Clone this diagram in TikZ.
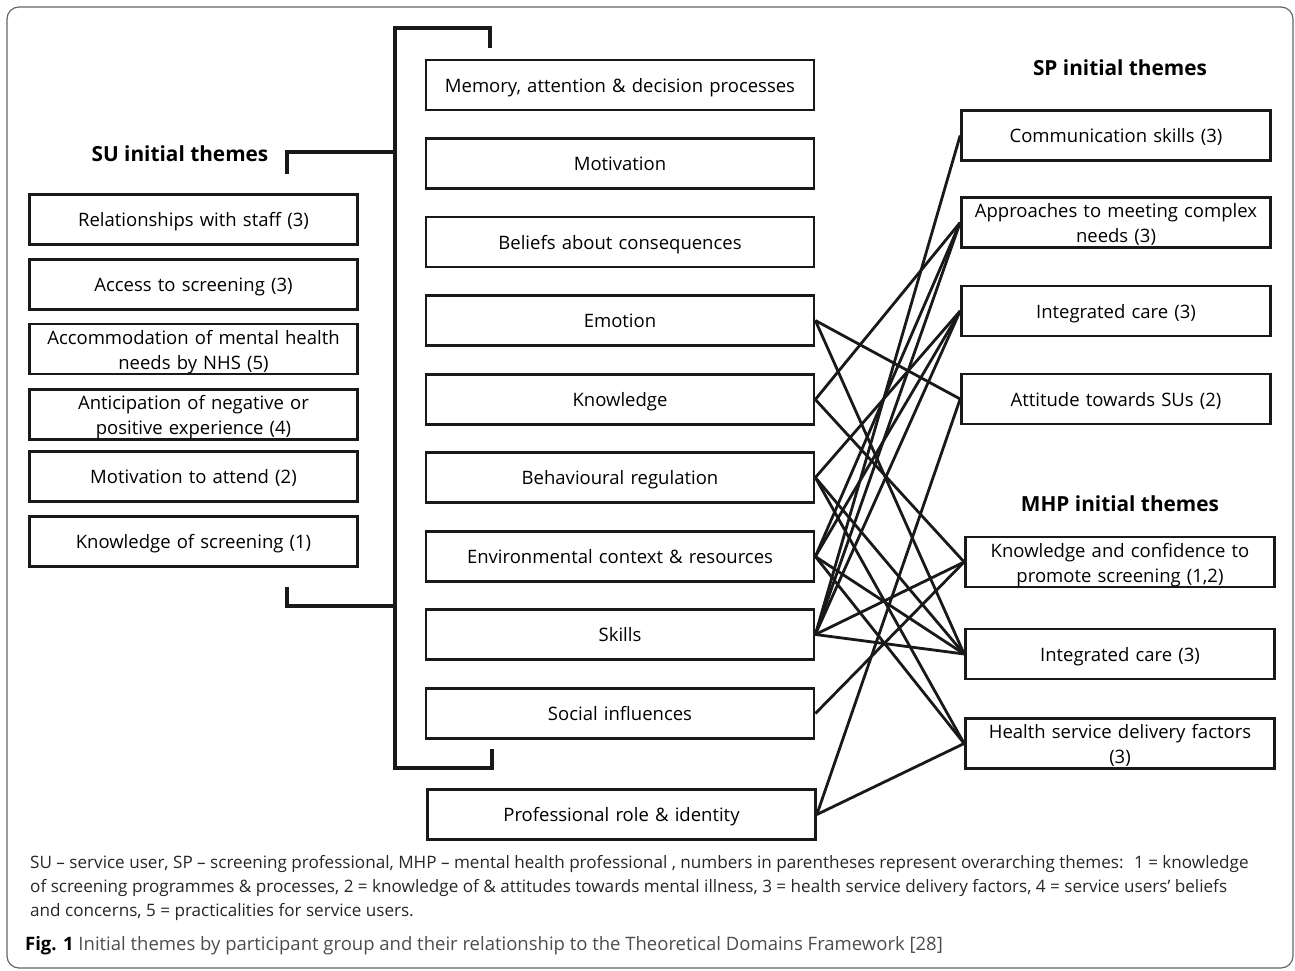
\documentclass[tikz,border=0pt]{standalone}
\usepackage{fontspec}
\setmainfont{Open Sans}
\begin{document}
\begin{tikzpicture}[x=1pt,y=-1pt,
  box/.style={draw=black!90, line width=2.7pt, minimum height=50pt, inner sep=2pt, align=center, text depth=0pt, font=\fontsize{18.5}{25}\selectfont},
  two/.style={text depth=24pt},
  lbox/.style={box, minimum width=328pt, text width=324pt},
  mbox/.style={box, minimum width=388pt, text width=380pt},
  rbox/.style={box, minimum width=309pt, text width=305pt},
  qbox/.style={box, minimum width=309pt, text width=305pt},
  link/.style={line width=2.8pt, black!90},
  brk/.style={line width=4.5pt, black!90},
  ttl/.style={font=\fontsize{20.8}{25}\selectfont\bfseries}]
\useasboundingbox (0,0) rectangle (1295,971);
\draw[line width=1.2pt, black!60, rounded corners=12pt] (7,7) rectangle (1293,968);

% titles
\node[ttl] (su) at (180,154) {SU initial themes};
\node[ttl] (sp) at (1120,68) {SP initial themes};
\node[ttl] (mhp) at (1120,504) {MHP initial themes};

% left boxes
\node[lbox] (l1) at (193.5,219.5) {Relationships with staff (3)};
\node[lbox] (l2) at (193.5,284.5) {Access to screening (3)};
\node[lbox, two] (l3) at (193.5,349) {Accommodation of mental health\\needs by NHS (5)};
\node[lbox, two] (l4) at (193.5,414.5) {Anticipation of negative or\\positive experience (4)};
\node[lbox] (l5) at (193.5,476.5) {Motivation to attend (2)};
\node[lbox] (l6) at (193.5,541.5) {Knowledge of screening (1)};

% middle boxes
\node[mbox] (m1) at (620,85) {Memory, attention \& decision processes};
\node[mbox] (m2) at (620,163.5) {Motivation};
\node[mbox] (m3) at (620,242) {Beliefs about consequences};
\node[mbox] (m4) at (620,320.5) {Emotion};
\node[mbox] (m5) at (620,399.5) {Knowledge};
\node[mbox] (m6) at (620,477.5) {Behavioural regulation};
\node[mbox] (m7) at (620,556.5) {Environmental context \& resources};
\node[mbox] (m8) at (620,634.5) {Skills};
\node[mbox] (m9) at (620,713.5) {Social influences};
\node[mbox] (m10) at (621.5,814.5) {Professional role \& identity};

% right boxes SP
\node[rbox] (s1) at (1116,135.5) {Communication skills (3)};
\node[rbox, two] (s2) at (1116,222.5) {Approaches to meeting complex\\needs (3)};
\node[rbox] (s3) at (1116,311) {Integrated care (3)};
\node[rbox] (s4) at (1116,399) {Attitude towards SUs (2)};
% right boxes MHP
\node[qbox, two] (h1) at (1120,562) {Knowledge and confidence to\\promote screening (1,2)};
\node[qbox] (h2) at (1120,654) {Integrated care (3)};
\node[qbox, two] (h3) at (1120,743.5) {Health service delivery factors\\(3)};

% brackets
\coordinate (bt1) at (490,48);
\coordinate (bt2) at (490,28);
\coordinate (bt3) at (395,28);
\coordinate (bb3) at (395,768);
\coordinate (bb2) at (492,768);
\coordinate (bb1) at (492,749);
\draw[brk] (bt1) -- (bt2) -- (bt3) -- (bb3) -- (bb2) -- (bb1);
\coordinate (lt1) at (287,174);
\coordinate (lt2) at (287,152);
\coordinate (lt3) at (397,152);
\coordinate (lb1) at (287,587);
\coordinate (lb2) at (287,606);
\coordinate (lb3) at (397,606);
\draw[brk] (lt1) -- (lt2) -- (lt3);
\draw[brk] (lb1) -- (lb2) -- (lb3);

% links
\draw[link] (m4.east) -- (s4.west);
\draw[link] (m4.east) -- (h2.west);
\draw[link] (m5.east) -- (s2.west);
\draw[link] (m5.east) -- (h1.west);
\draw[link] (m6.east) -- (s3.west);
\draw[link] (m6.east) -- (h2.west);
\draw[link] (m6.east) -- (h3.west);
\draw[link] (m7.east) -- (s2.west);
\draw[link] (m7.east) -- (s3.west);
\draw[link] (m7.east) -- (h2.west);
\draw[link] (m7.east) -- (h3.west);
\draw[link] (m8.east) -- (s1.west);
\draw[link] (m8.east) -- (s2.west);
\draw[link] (m8.east) -- (s3.west);
\draw[link] (m8.east) -- (h1.west);
\draw[link] (m8.east) -- (h2.west);
\draw[link] (m9.east) -- (h1.west);
\draw[link] (m10.east) -- (s4.west);
\draw[link] (m10.east) -- (h3.west);

% footnote
\node[anchor=west, font=\fontsize{17.1}{24}\selectfont, align=left, text=black!85, inner sep=0pt] (fn) at (30,888)
 {SU -- service user, SP -- screening professional, MHP -- mental health professional , numbers in parentheses represent overarching themes:~ 1 = knowledge\\
 of screening programmes \& processes, 2 = knowledge of \& attitudes towards mental illness, 3 = health service delivery factors, 4 = service users’ beliefs\\
 and concerns, 5 = practicalities for service users.};
\node[anchor=west, font=\fontsize{18.5}{22}\selectfont, text=black!70, inner sep=0pt] (cap) at (25,946)
 {\textbf{\color{black}Fig. 1} Initial themes by participant group and their relationship to the Theoretical Domains Framework [28]};
\end{tikzpicture}
\end{document}
